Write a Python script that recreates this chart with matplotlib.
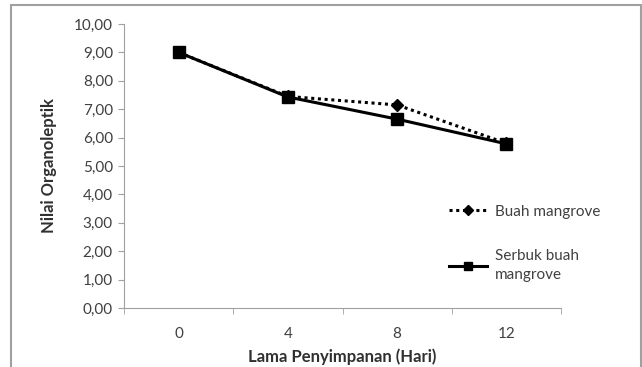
import matplotlib
matplotlib.use("Agg")
import matplotlib.pyplot as plt
from matplotlib.patches import Rectangle
from matplotlib.ticker import FixedLocator, FuncFormatter

days = ["0", "4", "8", "12"]
buah = [9.00, 7.45, 7.15, 5.80]
serbuk = [9.00, 7.43, 6.65, 5.78]
yticks = [0, 1, 2, 3, 4, 5, 6, 7, 8, 9, 10]

plt.rcParams['font.family'] = ['Lato', 'DejaVu Sans']

fig = plt.figure(figsize=(6.42, 3.67), dpi=100)
fig.add_artist(Rectangle((11/642, -0.05), (641-11)/642, (367-5)/367 + 0.05, transform=fig.transFigure,
                         fill=False, edgecolor='#a0a0a0', linewidth=1.5))

ax = fig.add_axes([124/642, 59/367, 437/642, 284/367])
x = list(range(len(days)))
ax.plot(x, buah, linestyle=(0, (1, 1.2)), color='black', linewidth=2.2,
        marker='D', markersize=6, label='Buah mangrove', zorder=3)
ax.plot(x, serbuk, linestyle='-', color='black', linewidth=2.2,
        marker='s', markersize=9, label='Serbuk buah\nmangrove', zorder=4)

ax.set_xlim(-0.5, 3.5)
ax.set_ylim(0, 10)
ax.set_yticks(yticks)
ax.yaxis.set_major_formatter(FuncFormatter(lambda v, p: f"{v:.2f}".replace('.', ',')))
ax.set_xticks(x)
ax.set_xticklabels(days)
ax.xaxis.set_minor_locator(FixedLocator([-0.5, 0.5, 1.5, 2.5, 3.5]))
ax.tick_params(axis='x', which='major', length=0, pad=14, labelsize=11, colors='#404040')
ax.tick_params(axis='x', which='minor', length=4, direction='out', color='#a0a0a0')
ax.tick_params(axis='y', length=4, direction='out', color='#a0a0a0', labelsize=11,
               labelcolor='#404040', pad=4)
for s in ['top', 'right']:
    ax.spines[s].set_visible(False)
for s in ['left', 'bottom']:
    ax.spines[s].set_color('#a0a0a0')
ax.set_ylabel('Nilai Organoleptik', fontsize=12, fontweight='bold', color='#303030', labelpad=12)
ax.set_xlabel('Lama Penyimpanan (Hari)', fontsize=12, fontweight='bold', color='#303030', labelpad=5)

leg = ax.legend(loc='upper left', bbox_to_anchor=(435/642, 176/367), bbox_transform=fig.transFigure,
                frameon=False, fontsize=11, handlelength=2.5, labelspacing=2.0,
                handletextpad=0.5)
leg.legend_handles[0].set_markersize(5)
leg.legend_handles[1].set_markersize(6)
for t in leg.get_texts():
    t.set_color('#404040')
    t.set_linespacing(1.4)

fig.savefig('out.png', dpi=100)
